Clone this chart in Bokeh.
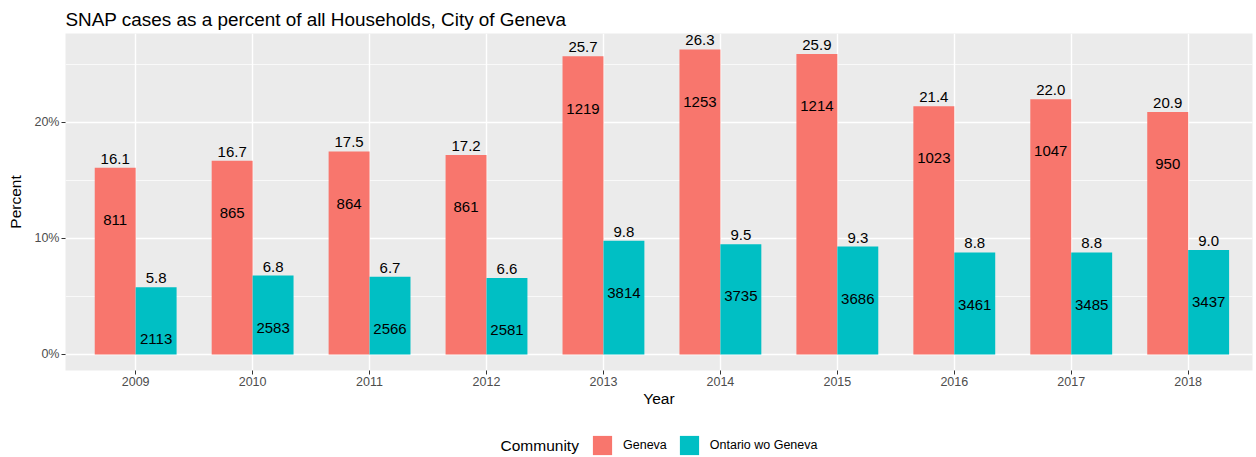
from bokeh.plotting import figure
from bokeh.layouts import column
from bokeh.models import (Range1d, FixedTicker, Legend, LegendItem, Label,
                          ColumnDataSource, PrintfTickFormatter, Title)
from bokeh.core.properties import value
from bokeh.embed import file_html
from bokeh.resources import INLINE

years = [2009, 2010, 2011, 2012, 2013, 2014, 2015, 2016, 2017, 2018]
geneva_pct = [16.1, 16.7, 17.5, 17.2, 25.7, 26.3, 25.9, 21.4, 22.0, 20.9]
geneva_cases = [811, 865, 864, 861, 1219, 1253, 1214, 1023, 1047, 950]
ontario_pct = [5.8, 6.8, 6.7, 6.6, 9.8, 9.5, 9.3, 8.8, 8.8, 9.0]
ontario_cases = [2113, 2583, 2566, 2581, 3814, 3735, 3686, 3461, 3485, 3437]
series_names = ["Geneva", "Ontario wo Geneva"]
legend_title = "Community"
y_ticks = [0, 10, 20]
y_minor = [5, 15, 25]

FONT = "Liberation Sans"
COLORS = ["#F8766D", "#00BFC4"]
BAR_W = 0.35
CASE_OFFSET = 4.5
FRAME_L, FRAME_R = 65, 1252

idx = list(range(len(years)))
gsrc = ColumnDataSource(dict(
    x=[i - BAR_W / 2 for i in idx], top=geneva_pct,
    lab=["%.1f" % v for v in geneva_pct],
    cases=[str(c) for c in geneva_cases],
    cy=[v - CASE_OFFSET for v in geneva_pct]))
osrc = ColumnDataSource(dict(
    x=[i + BAR_W / 2 for i in idx], top=ontario_pct,
    lab=["%.1f" % v for v in ontario_pct],
    cases=[str(c) for c in ontario_cases],
    cy=[v - CASE_OFFSET for v in ontario_pct]))

p = figure(width=1256, height=415, output_backend="svg", toolbar_location=None,
           x_range=Range1d(-0.6, 9.55), y_range=Range1d(-1.38, 27.67),
           min_border_left=FRAME_L, min_border_top=33, min_border_bottom=45,
           min_border_right=1256 - FRAME_R)
p.title = Title(text="SNAP cases as a percent of all Households, City of Geneva",
                text_font=FONT, text_font_size="18.9px", text_font_style="normal",
                text_color="black", align="left", standoff=8, offset=0)

p.background_fill_color = "#EBEBEB"
p.border_fill_color = "white"
p.outline_line_color = None

for src, col in zip((gsrc, osrc), COLORS):
    p.vbar(x="x", top="top", bottom=0, width=BAR_W, source=src,
           fill_color=col, line_color=None)

for src in (gsrc, osrc):
    p.text(x="x", y="top", text="lab", source=src, text_align="center",
           text_baseline="bottom", y_offset=-4, text_font_size="15px",
           text_color="black", text_font=value(FONT))
    p.text(x="x", y="cy", text="cases", source=src, text_align="center",
           text_baseline="middle", text_font_size="15px", text_color="black",
           text_font=value(FONT))

# axes
p.xaxis.ticker = FixedTicker(ticks=idx)
p.xaxis.major_label_overrides = {i: str(y) for i, y in zip(idx, years)}
p.yaxis.ticker = FixedTicker(ticks=y_ticks, minor_ticks=y_minor)
p.yaxis.formatter = PrintfTickFormatter(format="%d%%")
p.xaxis.axis_label = "Year"
p.yaxis.axis_label = "Percent"
for ax in (p.xaxis[0], p.yaxis[0]):
    ax.axis_line_color = None
    ax.major_tick_line_color = "#333333"
    ax.major_tick_out = 4
    ax.major_tick_in = 0
    ax.minor_tick_line_color = None
    ax.major_label_text_font = FONT
    ax.major_label_text_font_size = "12.5px"
    ax.major_label_text_color = "#4D4D4D"
    ax.axis_label_text_font = FONT
    ax.axis_label_text_font_size = "15.5px"
    ax.axis_label_text_font_style = "normal"
    ax.axis_label_text_color = "black"
    ax.major_label_standoff = 2
p.xaxis.axis_label_standoff = 1
p.yaxis.axis_label_standoff = 7

p.xgrid.grid_line_color = "white"
p.xgrid.grid_line_width = 1.4
p.ygrid.grid_line_color = "white"
p.ygrid.grid_line_width = 1.4
p.ygrid.minor_grid_line_color = "white"
p.ygrid.minor_grid_line_width = 0.7

# legend strip below the plot (frame aligned with main frame, pixel ranges)
LG_H = 42
lg = figure(width=1256, height=LG_H, output_backend="svg", toolbar_location=None,
            x_range=Range1d(FRAME_L, FRAME_R), y_range=Range1d(0, LG_H),
            x_axis_location=None, y_axis_location=None,
            min_border_left=FRAME_L, min_border_right=1256 - FRAME_R,
            min_border_top=0, min_border_bottom=0)
lg.outline_line_color = None
lg.background_fill_color = "white"
lg.border_fill_color = "white"
lg.xgrid.visible = False
lg.ygrid.visible = False
items = []
for name, col in zip(series_names, COLORS):
    r = lg.vbar(x=[-1000], top=[0], bottom=0, width=1, fill_color=col,
                line_color=None)
    items.append(LegendItem(label=name, renderers=[r]))

legend = Legend(items=items, orientation="horizontal", location=(590 - FRAME_L, 0),
                glyph_width=24, glyph_height=24, label_standoff=9, spacing=10,
                padding=0, margin=0, border_line_color=None,
                background_fill_alpha=0, label_text_font=FONT,
                label_text_font_size="12.5px", label_text_color="black")
lg.add_layout(legend)
lg.add_layout(Label(x=500, y=12, text=legend_title, text_font=FONT,
                    text_font_size="15.5px", text_baseline="middle",
                    text_align="left", text_color="black"))

layout = column(p, lg, spacing=0)
open("out.html", "w").write(file_html(layout, INLINE))
